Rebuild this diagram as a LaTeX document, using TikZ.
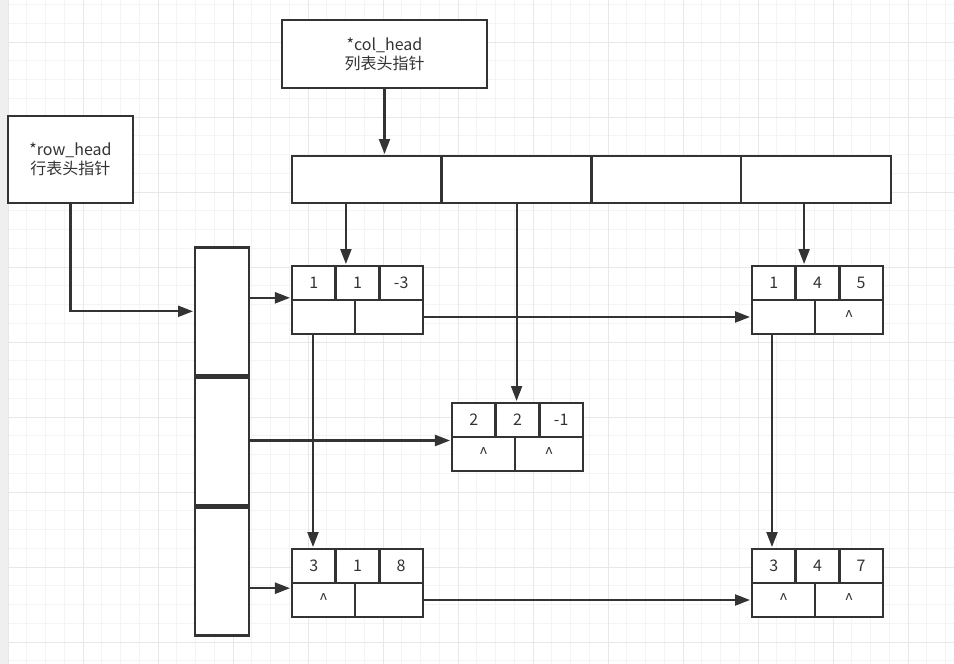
\documentclass[tikz,border=0pt]{standalone}
\usepackage{fontspec}
\setmainfont{Noto Sans CJK SC}
\usetikzlibrary{arrows.meta,calc}
\definecolor{ink}{HTML}{333333}
\definecolor{gridminor}{HTML}{F4F4F4}
\definecolor{gridmajor}{HTML}{E8E8E8}
\definecolor{strip}{HTML}{EFEFEF}
\tikzset{
  cell/.style={draw=ink, line width=2.5pt, fill=white, inner sep=0pt, outer sep=0pt,
    text=ink, font=\fontsize{16}{19}\selectfont, align=center},
  arr/.style={draw=ink, line width=2.2pt, -{Triangle[length=15pt,width=11pt]}, shorten >=2pt},
}
\newcommand\mylist[7]{%
  \begin{scope}[shift={#2}]
    \node[cell,minimum width=43.67pt,minimum height=34pt] (#1a) at (21.83,17) {#3};
    \node[cell,minimum width=43.67pt,minimum height=34pt] (#1b) at (65.5,17) {#4};
    \node[cell,minimum width=43.67pt,minimum height=34pt] (#1c) at (109.17,17) {#5};
    \node[cell,minimum width=63pt,minimum height=34pt] (#1l) at (31.5,51) {#6};
    \node[cell,minimum width=68pt,minimum height=34pt] (#1r) at (97,51) {#7};
  \end{scope}}
\begin{document}
\begin{tikzpicture}[x=1pt,y=-1pt]
\useasboundingbox (0,0) rectangle (954,664);
% background grid
\fill[white] (0,0) rectangle (954,664);
\foreach \i in {0,...,50} {
  \draw[gridminor, line width=1pt] ({8+\i*18.75},0) -- ({8+\i*18.75},664);
}
\foreach \i in {0,...,35} {
  \draw[gridminor, line width=1pt] (0,{4.5+\i*18.75}) -- (954,{4.5+\i*18.75});
}
\foreach \i in {0,...,12} {
  \draw[gridmajor, line width=1pt] ({8+\i*75},0) -- ({8+\i*75},664);
}
\foreach \i in {0,...,8} {
  \draw[gridmajor, line width=1pt] (0,{42+\i*75}) -- (954,{42+\i*75});
}
\fill[strip] (0,0) rectangle (8,664);

% head pointers
\node[cell,minimum width=205pt,minimum height=68pt] (colhead) at (384.5,54) {*col\_head\\列表头指针};
\node[cell,minimum width=125pt,minimum height=87pt] (rowhead) at (70.5,159.5) {*row\_head\\行表头指针};

% column header array
\node[cell,minimum width=149.75pt,minimum height=47pt] (ca1) at (366.9,179.5) {};
\node[cell,minimum width=149.75pt,minimum height=47pt] (ca2) at (516.6,179.5) {};
\node[cell,minimum width=149.75pt,minimum height=47pt] (ca3) at (666.4,179.5) {};
\node[cell,minimum width=149.75pt,minimum height=47pt] (ca4) at (816.1,179.5) {};

% row header array
\node[cell,minimum width=54pt,minimum height=128pt] (ra1) at (222,311.3) {};
\node[cell,minimum width=54pt,minimum height=128pt] (ra2) at (222,441.5) {};
\node[cell,minimum width=54pt,minimum height=128pt] (ra3) at (222,571.7) {};

% triple nodes
\mylist{na}{(292,266)}{1}{1}{-3}{}{}
\mylist{nb}{(752,266)}{1}{4}{5}{}{\^{}}
\mylist{nc}{(452,403)}{2}{2}{-1}{\^{}}{\^{}}
\mylist{nd}{(292,549)}{3}{1}{8}{\^{}}{}
\mylist{ne}{(752,549)}{3}{4}{7}{\^{}}{\^{}}

% connectors
\draw[arr] (colhead.south) -- (colhead.south |- ca1.north);
\draw[arr] (rowhead.south) |- (ra1.west);
\draw[arr] ([xshift=-21pt]ca1.south) -- ([xshift=-21pt]ca1.south |- naa.north);
\draw[arr] (ca2.south) -- (ca2.south |- nca.north);
\draw[arr] ([xshift=-12pt]ca4.south) -- ([xshift=-12pt]ca4.south |- nba.north);
\draw[arr] ([yshift=13.5pt]ra1.east) -- ([yshift=13.5pt]ra1.east -| naa.west);
\draw[arr] ([yshift=1pt]ra2.east) -- ([yshift=1pt]ra2.east -| nca.west);
\draw[arr] ([yshift=-16.5pt]ra3.east) -- ([yshift=-16.5pt]ra3.east -| nda.west);
\draw[arr] ([xshift=-10.5pt]nal.south) -- ([xshift=-10.5pt]nal.south |- nda.north);
\draw[arr] (nar.east) -- (nar.east -| nbl.west);
\draw[arr] ([xshift=-11.5pt]nbl.south) -- ([xshift=-11.5pt]nbl.south |- nea.north);
\draw[arr] (ndr.east) -- (ndr.east -| nel.west);
\end{tikzpicture}
\end{document}
